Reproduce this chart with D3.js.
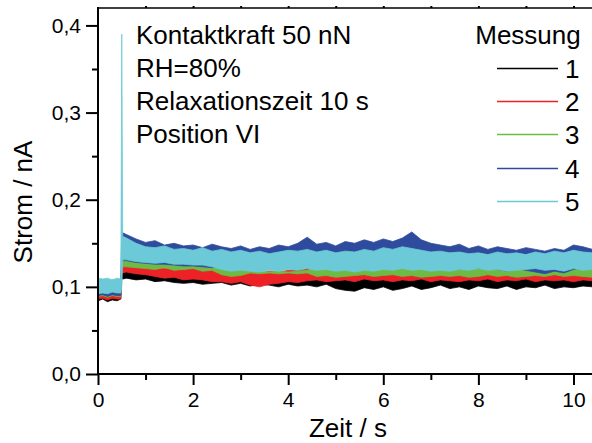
<!DOCTYPE html>
<html>
<head>
<meta charset="utf-8">
<script src="https://d3js.org/d3.v7.min.js"></script>
<style>
  body { margin: 0; background: #fff; }
  svg text { font-family: "Liberation Sans", Arial, sans-serif; fill: #000; }
</style>
</head>
<body>
<div id="chart"></div>
<script>
// time grid in s (shared by all runs)
var zeit = [0, 0.1, 0.2, 0.3, 0.4, 0.48, 0.5, 0.52,
  0.6, 0.8, 1.0, 1.2, 1.4, 1.6, 1.8, 2.0, 2.2, 2.4,
  2.6, 2.8, 3.0, 3.2, 3.4, 3.6, 3.8, 4.0, 4.2, 4.4,
  4.6, 4.8, 5.0, 5.2, 5.4, 5.6, 5.8, 6.0, 6.2, 6.4,
  6.6, 6.8, 7.0, 7.2, 7.4, 7.6, 7.8, 8.0, 8.2, 8.4,
  8.6, 8.8, 9.0, 9.2, 9.4, 9.6, 9.8, 10.0, 10.2, 10.4];

// noise band of each run (upper / lower edge), nA
var m1_hi = [.097,.095,.096,.094,.096,.095, .118,.117,
  .117,.115,.116,.113,.114,.112,.113,.111,.113,.112,
  .110,.112,.111,.113,.110,.112,.114,.111,.113,.112,
  .114,.113,.116,.117,.114,.116,.118,.115,.117,.116,
  .114,.117,.115,.118,.116,.114,.117,.115,.113,.116,
  .114,.117,.115,.113,.116,.114,.116,.113,.115,.114];
var m1_lo = [.084,.086,.083,.085,.084,.086, .110,.109,
  .110,.108,.109,.106,.107,.105,.104,.105,.103,.104,
  .105,.102,.104,.101,.103,.102,.100,.103,.101,.102,
  .100,.103,.098,.096,.095,.099,.097,.100,.096,.098,
  .101,.097,.099,.102,.098,.100,.097,.101,.099,.098,
  .101,.097,.100,.099,.102,.098,.100,.099,.101,.100];

var m2_hi = [.093,.094,.092,.094,.093,.094, .129,.128,
  .128,.126,.124,.123,.121,.122,.120,.121,.119,.120,
  .118,.117,.119,.117,.116,.118,.117,.119,.120,.121,
  .122,.120,.119,.121,.120,.122,.119,.121,.123,.120,
  .122,.121,.119,.122,.120,.121,.119,.122,.120,.121,
  .123,.120,.122,.119,.121,.120,.122,.120,.121,.119];
var m2_lo = [.086,.087,.085,.087,.086,.086, .116,.116,
  .117,.115,.114,.112,.110,.111,.108,.109,.108,.106,
  .106,.104,.106,.102,.100,.103,.104,.106,.105,.107,
  .108,.106,.107,.108,.106,.109,.107,.108,.106,.108,
  .107,.109,.106,.108,.107,.106,.108,.107,.109,.106,
  .108,.107,.109,.106,.108,.107,.108,.106,.108,.107];

var m3_hi = [.097,.096,.097,.095,.097,.096, .135,.134,
  .133,.130,.128,.126,.129,.125,.127,.126,.124,.128,
  .125,.123,.124,.119,.118,.117,.118,.117,.118,.119,
  .123,.124,.122,.121,.123,.125,.124,.126,.125,.127,
  .130,.126,.124,.125,.123,.124,.126,.122,.124,.125,
  .127,.123,.124,.122,.125,.124,.126,.123,.124,.125];
var m3_lo = [.089,.090,.088,.090,.089,.089, .123,.123,
  .123,.122,.121,.120,.122,.119,.120,.121,.118,.119,
  .114,.112,.113,.116,.115,.116,.115,.116,.115,.116,
  .112,.113,.111,.112,.113,.114,.112,.113,.114,.112,
  .113,.111,.112,.113,.112,.113,.111,.112,.114,.112,
  .113,.111,.112,.113,.112,.114,.112,.113,.112,.111];

var m4_hi = [.107,.108,.106,.108,.107,.108, .163,.162,
  .160,.155,.151,.153,.148,.150,.147,.148,.145,.149,
  .146,.144,.147,.143,.146,.144,.148,.146,.150,.157,
  .149,.151,.147,.152,.150,.154,.151,.155,.152,.156,
  .163,.154,.150,.148,.146,.149,.144,.147,.143,.146,
  .144,.142,.145,.143,.141,.144,.142,.148,.146,.143];
var m4_lo = [.090,.091,.089,.091,.090,.090, .130,.130,
  .130,.128,.127,.126,.126,.125,.124,.124,.123,.122,
  .124,.121,.123,.122,.124,.121,.123,.122,.124,.123,
  .121,.124,.122,.123,.121,.124,.122,.123,.121,.124,
  .122,.123,.121,.124,.122,.120,.123,.121,.122,.120,
  .118,.121,.119,.117,.115,.118,.116,.120,.122,.121];

var m5_hi = [.110,.109,.110,.108,.110,.109, .390,.158,
  .156,.150,.146,.145,.147,.143,.144,.142,.145,.141,
  .143,.140,.142,.139,.141,.138,.140,.142,.141,.143,
  .140,.142,.139,.141,.140,.143,.141,.145,.143,.146,
  .144,.142,.140,.141,.139,.140,.138,.139,.137,.140,
  .138,.139,.137,.140,.138,.141,.139,.142,.140,.139];
var m5_lo = [.092,.093,.092,.094,.093,.093, .100,.131,
  .131,.129,.128,.127,.128,.126,.126,.125,.125,.123,
  .120,.118,.119,.118,.117,.119,.118,.120,.119,.121,
  .119,.120,.118,.119,.117,.119,.118,.120,.119,.121,
  .119,.120,.118,.119,.118,.120,.119,.121,.119,.120,
  .118,.119,.120,.121,.119,.120,.118,.121,.119,.120];

var messungen = ["1", "2", "3", "4", "5"];
var farben = ["#000000", "#ec2227", "#6dbb45", "#2f4b9e", "#6ccad8"];
var xTicks = [0, 2, 4, 6, 8, 10];
var yTicks = [0, 0.1, 0.2, 0.3, 0.4];
var infoText = ["Kontaktkraft 50 nN", "RH=80%", "Relaxationszeit 10 s", "Position VI"];

var runs = [
  {hi: m1_hi, lo: m1_lo},
  {hi: m2_hi, lo: m2_lo},
  {hi: m3_hi, lo: m3_lo},
  {hi: m4_hi, lo: m4_lo},
  {hi: m5_hi, lo: m5_lo}
];

var W = 592, H = 443;
var pLeft = 98, pTop = 8, pBottom = 374, pRight = 592.5;

var svg = d3.select("#chart").append("svg")
    .attr("width", W)
    .attr("height", H);

var x = d3.scaleLinear().domain([0, 10.4]).range([pLeft, pRight]);
var y = d3.scaleLinear().domain([0, 0.42]).range([pBottom, pTop]);

svg.append("clipPath").attr("id", "plot")
  .append("rect")
    .attr("x", pLeft).attr("y", pTop)
    .attr("width", W - pLeft).attr("height", pBottom - pTop);

var band = function(r) {
  return d3.area()
    .x(function(d, i) { return x(zeit[i]); })
    .y0(function(d, i) { return y(r.lo[i]); })
    .y1(function(d, i) { return y(r.hi[i]); })(zeit);
};

svg.append("g").attr("clip-path", "url(#plot)")
  .selectAll("path")
  .data(runs)
  .enter().append("path")
    .attr("d", band)
    .style("fill", function(d, i) { return farben[i]; })
    .style("stroke", function(d, i) { return farben[i]; })
    .style("stroke-width", 0.8);

// axes
svg.append("g")
    .attr("transform", "translate(0," + pBottom + ")")
    .call(d3.axisBottom(x).tickValues(xTicks).tickSize(11).tickPadding(7)
      .tickFormat(d3.format("d")));
svg.append("g")
    .attr("transform", "translate(0," + pBottom + ")")
    .call(d3.axisBottom(x).tickValues([1, 3, 5, 7, 9]).tickSize(6).tickFormat(""));

svg.append("g")
    .attr("transform", "translate(" + pLeft + ",0)")
    .call(d3.axisLeft(y).tickValues(yTicks).tickSize(12).tickPadding(5)
      .tickFormat(function(d) { return d3.format(".1f")(d).replace(".", ","); }));
svg.append("g")
    .attr("transform", "translate(" + pLeft + ",0)")
    .call(d3.axisLeft(y).tickValues([0.05, 0.15, 0.25, 0.35]).tickSize(6).tickFormat(""));

svg.append("g")
    .attr("transform", "translate(0," + pTop + ")")
    .call(d3.axisTop(x).tickValues([1, 2, 3, 4, 5, 6, 7, 8, 9, 10]).tickSize(2).tickFormat(""));

svg.selectAll(".domain").remove();
svg.selectAll(".tick line").style("stroke", "#000").style("stroke-width", 2);
svg.selectAll(".tick text").style("font-size", "21px").style("fill", "#000");

svg.append("line")
    .attr("x1", pLeft).attr("x2", pLeft).attr("y1", pTop - 1).attr("y2", pBottom + 1)
    .style("stroke", "#000").style("stroke-width", 2);
svg.append("line")
    .attr("x1", pLeft - 1).attr("x2", W).attr("y1", pBottom).attr("y2", pBottom)
    .style("stroke", "#000").style("stroke-width", 2);
svg.append("line")
    .attr("x1", pLeft - 1).attr("x2", W).attr("y1", pTop).attr("y2", pTop)
    .style("stroke", "#000").style("stroke-width", 1.5);

// axis titles
svg.append("text")
    .attr("x", 348).attr("y", 437)
    .attr("text-anchor", "middle")
    .style("font-size", "26px")
    .text("Zeit / s");
svg.append("text")
    .attr("transform", "translate(32,202) rotate(-90)")
    .attr("text-anchor", "middle")
    .style("font-size", "26px")
    .text("Strom / nA");

// info block
svg.selectAll(".info")
  .data(infoText)
  .enter().append("text")
    .attr("class", "info")
    .attr("x", 136)
    .attr("y", function(d, i) { return 43.5 + i * 33.3; })
    .style("font-size", "26px")
    .text(function(d) { return d; });

// legend
svg.append("text")
    .attr("x", 528).attr("y", 44)
    .attr("text-anchor", "middle")
    .style("font-size", "26px")
    .text("Messung");

var leg = svg.selectAll(".leg")
  .data(messungen)
  .enter().append("g")
    .attr("class", "leg")
    .attr("transform", function(d, i) { return "translate(0," + (Math.round(67.7 + i * 33.3) + 0.5) + ")"; });
leg.append("line")
    .attr("x1", 497).attr("x2", 558)
    .style("stroke", function(d, i) { return farben[i]; })
    .style("stroke-width", 1.6);
leg.append("text")
    .attr("x", 565).attr("y", 9)
    .style("font-size", "26px")
    .text(function(d) { return d; });
</script>
</body>
</html>
